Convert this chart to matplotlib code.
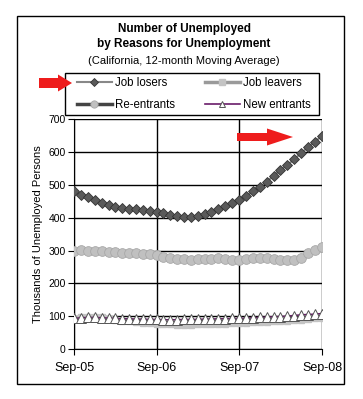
import numpy as np
import pandas as pd
import matplotlib
matplotlib.use('Agg')
import matplotlib.pyplot as plt
import matplotlib.dates as mdates
from matplotlib.patches import Rectangle, Polygon

plt.rcParams['font.family'] = ['Liberation Sans', 'DejaVu Sans']

# monthly data, Sep-05 .. Sep-08 (thousands)
months = pd.date_range('2005-09-01', periods=37, freq='MS')
job_losers = [482, 470, 462, 454, 446, 439, 434, 431, 428, 426, 424, 422,
              419, 413, 408, 404, 401, 401, 404, 411, 418, 426, 435, 445,
              455, 466, 480, 493, 510, 528, 545, 561, 578, 597, 615, 632, 649]
job_leavers = [90, 96, 99, 99, 96, 92, 89, 86, 84, 82, 80, 78,
               77, 76, 75, 74, 74, 74, 75, 75, 76, 76, 77, 78,
               79, 80, 81, 82, 83, 84, 85, 86, 87, 89, 91, 93, 95]
re_entrants = [300, 301, 300, 299, 298, 296, 295, 294, 293, 292, 290, 288,
               285, 281, 277, 274, 273, 272, 273, 274, 275, 276, 274, 272,
               271, 273, 276, 278, 276, 273, 271, 270, 272, 278, 292, 302, 310]
new_entrants = [93, 95, 96, 96, 95, 94, 93, 92, 92, 91, 91, 90,
                90, 89, 89, 89, 90, 90, 90, 91, 91, 92, 92, 93,
                93, 94, 95, 96, 97, 98, 99, 100, 102, 104, 105, 106, 108]

W, H = 363, 399
fig = plt.figure(figsize=(W / 100, H / 100), dpi=100)

def fx(px):
    return px / W

def fy(py):
    return 1 - py / H

ax = fig.add_axes([fx(74), fy(349), fx(322) - fx(74), fy(119.3) - fy(349)])

l1, = ax.plot(months, job_losers, color='#888888', lw=1.5, marker='D', ms=5.5,
              mfc='#5a5a5a', mec='#333333', mew=0.6, label='Job losers', zorder=5)
l2, = ax.plot(months, job_leavers, color='#9a9a9a', lw=2.5, marker='s', ms=5,
              mfc='#c4c4c4', mec='#c4c4c4', label='Job leavers', zorder=3)
l3, = ax.plot(months, re_entrants, color='#444444', lw=2.5, marker='o', ms=7,
              mfc='#c0c0c0', mec='#a8a8a8', mew=0.6, label='Re-entrants', zorder=4)
l4, = ax.plot(months, new_entrants, color='#6a1b6a', lw=1.2, marker='^', ms=6.5,
              mfc='white', mec='#555555', mew=0.7, label='New entrants', zorder=4)

ax.set_xlim(months[0], months[-1])
ax.set_ylim(0, 700)
ax.set_yticks(range(0, 701, 100))
ax.xaxis.set_major_locator(mdates.MonthLocator(bymonth=9))
ax.xaxis.set_major_formatter(mdates.DateFormatter('%b-%y'))
ax.grid(True, color='black', lw=1)
ax.set_axisbelow(True)
for s in ['top', 'right']:
    ax.spines[s].set_visible(False)
ax.tick_params(axis='y', labelsize=7.5, length=4, pad=2, direction='out')
ax.tick_params(axis='x', labelsize=9, length=4, pad=5, direction='out')
ax.set_ylabel('Thousands of Unemployed Persons', fontsize=8, labelpad=4)

# titles
fig.text(fx(184), fy(29), 'Number of Unemployed', ha='center', va='center',
         fontsize=8.5, fontweight='bold')
fig.text(fx(184), fy(44), 'by Reasons for Unemployment', ha='center', va='center',
         fontsize=8.5, fontweight='bold')
fig.text(fx(184), fy(61), '(California, 12-month Moving Average)', ha='center',
         va='center', fontsize=8)

# legend (frame drawn separately)
leg = fig.legend(handles=[l1, l3, l2, l4], loc='upper left',
                 bbox_to_anchor=(fx(77), fy(77)), bbox_transform=fig.transFigure,
                 ncol=2, fontsize=8.3, frameon=False, borderaxespad=0, borderpad=0,
                 handlelength=3.0, handletextpad=0.3, columnspacing=2.6,
                 labelspacing=0.85, markerscale=0.75)
fig.add_artist(Rectangle((fx(65), fy(115)), fx(319) - fx(65), fy(73) - fy(115),
                         transform=fig.transFigure, fill=False, ec='black', lw=1))

# outer border
fig.add_artist(Rectangle((fx(17), fy(384)), fx(344) - fx(17), fy(16) - fy(384),
                         transform=fig.transFigure, fill=False, ec='black', lw=1))

# red arrows
red = '#ee1c1c'
def arrow(x0, x1, xh, yc, sh, hh):
    pts = [(x0, yc - sh), (xh, yc - sh), (xh, yc - hh), (x1, yc),
           (xh, yc + hh), (xh, yc + sh), (x0, yc + sh)]
    fig.add_artist(Polygon([(fx(a), fy(b)) for a, b in pts], closed=True,
                           transform=fig.transFigure, fc=red, ec='none', zorder=10))

arrow(39, 72, 58, 83, 5, 8.5)
arrow(237, 293, 267, 137, 4, 8.5)

fig.savefig('out.png', dpi=100)
